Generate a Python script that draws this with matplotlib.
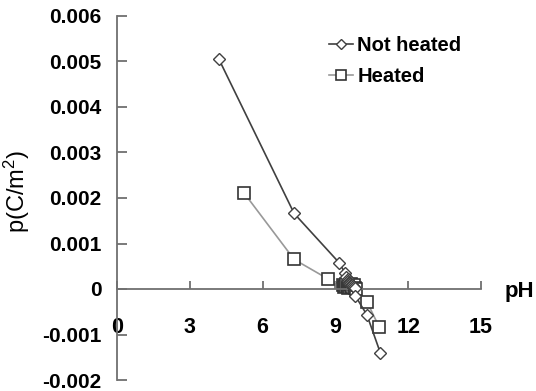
import matplotlib
matplotlib.use('Agg')
import matplotlib.pyplot as plt

plt.rcParams['font.family'] = ['Liberation Sans', 'DejaVu Sans']
plt.rcParams['font.weight'] = 'bold'
plt.rcParams['mathtext.default'] = 'regular'

# pH vs surface charge density
ph_not_heated = [4.2, 7.3, 9.15, 9.4, 9.45, 9.5, 9.52, 9.55, 9.58, 9.6, 9.62, 9.65,
                 9.7, 9.72, 9.75, 9.8, 9.82, 10.3, 10.85]
p_not_heated = [0.00505, 0.00166, 0.00058, 0.00035, 0.00026, 0.00021, 0.00018, 0.00015,
                0.00014, 0.00012, 0.00010, 0.00009, 0.00008, 0.00006, 0.00004, 0.00002,
                -0.00015, -0.00057, -0.0014]

ph_heated = [5.25, 7.3, 8.7, 9.3, 9.35, 9.4, 9.45, 9.5, 9.52, 9.55, 9.6, 9.63, 9.67,
             9.7, 9.75, 9.8, 9.85, 10.3, 10.8]
p_heated = [0.0021, 0.00065, 0.00022, 0.00008, 0.00004, 0.00006, 0.00010, 0.00007,
            0.00003, 0.00005, 0.00009, 0.00012, 0.00006, 0.00004, 0.00008, 0.00002,
            0.00000, -0.00028, -0.00083]

x_ticks = [0, 3, 6, 9, 12, 15]
y_ticks = [-0.002, -0.001, 0, 0.001, 0.002, 0.003, 0.004, 0.005, 0.006]
y_labels = ['-0.002', '-0.001', '0', '0.001', '0.002', '0.003', '0.004', '0.005', '0.006']

fig = plt.figure(figsize=(5.36, 3.91), dpi=100)
ax = fig.add_axes([117/536, 1 - 380/391, 364/536, 364/391])

ax.plot(ph_not_heated, p_not_heated, color='#404040', lw=1.2, marker='D', ms=6.5,
        mfc='white', mec='#404040', mew=1.0, label='Not heated', zorder=3)
ax.plot(ph_heated, p_heated, color='#999999', lw=1.2, marker='s', ms=9,
        mfc='white', mec='#333333', mew=1.2, label='Heated', zorder=2)

ax.set_xlim(0, 15)
ax.set_ylim(-0.002, 0.006)
ax.set_xticks(x_ticks)
ax.set_yticks(y_ticks)
ax.set_yticklabels(y_labels)

for s in ['top', 'right']:
    ax.spines[s].set_visible(False)
ax.spines['bottom'].set_position(('data', 0))
for s in ['bottom', 'left']:
    ax.spines[s].set_color('#707070')
    ax.spines[s].set_linewidth(1.3)

ax.tick_params(axis='x', direction='in', length=6, width=1.3, color='#707070',
               pad=20, labelsize=15.5)
ax.tick_params(axis='y', direction='in', length=7, width=1.3, color='#707070',
               pad=11, labelsize=15)

fig.text(17/536, 1 - 192/391, 'p(C/m$^{2}$)', rotation=90, ha='center', va='center',
         fontsize=17, fontweight='normal')
fig.text(519/536, 1 - 291/391, 'pH', ha='center', va='center', fontsize=16,
         fontweight='bold')

ax.legend(loc='upper left', bbox_to_anchor=(329/536, 1 - 36/391),
          bbox_transform=fig.transFigure, frameon=False, fontsize=14.5,
          handlelength=1.2, handletextpad=0.2, labelspacing=0.6,
          borderpad=0, borderaxespad=0, markerscale=0.85)

fig.savefig('out.png', dpi=100)
